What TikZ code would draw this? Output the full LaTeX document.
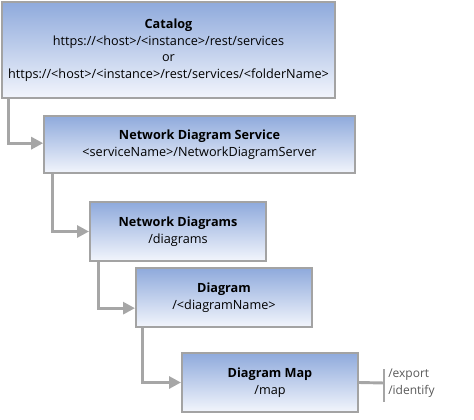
\documentclass[tikz,border=0pt]{standalone}
\usepackage{fontspec}
\setmainfont{Open Sans}
\usetikzlibrary{arrows.meta}
\definecolor{boxtop}{HTML}{8FAADC}
\definecolor{boxbottom}{HTML}{F2F5FC}
\definecolor{boxline}{HTML}{A3A3A3}
\definecolor{linkgray}{HTML}{A6A6A6}
\definecolor{textgray}{HTML}{595959}
\begin{document}
\begin{tikzpicture}[
        x=0.75pt, y=-0.75pt,
        every node/.style={font=\fontsize{9.5}{12.4}\selectfont},
        resbox/.style={rectangle, draw=boxline, line width=1.5pt, top color=boxtop, bottom color=boxbottom, align=center, inner sep=0pt},
        link/.style={draw=linkgray, line width=2.2pt},
        linkarrow/.style={link, -{Triangle[length=9pt,width=9pt]}},
        ]
        \useasboundingbox (0,0) rectangle (474,420);

        % Resources
        \node[resbox, minimum width=250pt, minimum height=72pt] (catalog) at (168.5,50)
            {\textbf{Catalog}\\https://<host>/<instance>/rest/services\\or\\https://<host>/<instance>/rest/services/<folderName>};
        \node[resbox, minimum width=233pt, minimum height=43pt] (service) at (199.5,144.5)
            {\textbf{Network Diagram Service}\\<serviceName>/NetworkDiagramServer};
        \node[resbox, minimum width=132pt, minimum height=44pt] (diagrams) at (178,231.5)
            {\textbf{Network Diagrams}\\/diagrams};
        \node[resbox, minimum width=132pt, minimum height=44pt] (diagram) at (224,297.5)
            {\textbf{Diagram}\\/<diagramName>};
        \node[resbox, minimum width=132pt, minimum height=44pt] (map) at (270,382.5)
            {\textbf{Diagram Map}\\/map};

        % Catalog to service
        \draw[linkarrow] ([xshift=6pt]catalog.south west) |- ([yshift=1pt]service.west);
        % Service to diagrams
        \draw[linkarrow] ([xshift=7pt]service.south west) |- (diagrams.west);
        % Diagrams to diagram
        \draw[linkarrow] ([xshift=7pt]diagrams.south west) |- ([yshift=-8pt]diagram.west);
        % Diagram to map
        \draw[linkarrow] ([xshift=5.5pt]diagram.south west) |- (map.west);

        % Operations
        \coordinate (bar) at (384,383);
        \coordinate (bartop) at (384,369);
        \coordinate (barbottom) at (384,402);
        \draw[link] (map.east) -- (bar);
        \draw[link, line width=1.8pt] (bartop) -- (barbottom);
        \node[anchor=west, align=left, text=textgray, inner sep=0pt, font=\fontsize{9}{12.4}\selectfont] (ops) at (388,383) {/export\\/identify};

    \end{tikzpicture}
\end{document}
